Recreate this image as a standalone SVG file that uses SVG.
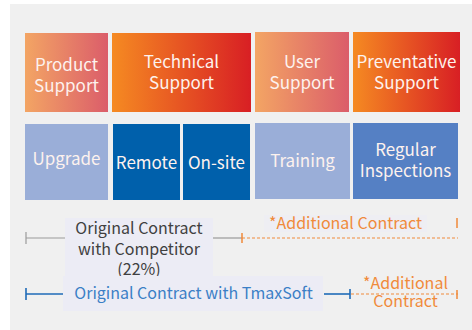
<svg xmlns="http://www.w3.org/2000/svg" width="472" height="330" viewBox="0 0 472 330">
<defs>
<linearGradient id="gSoft" x1="0" y1="0" x2="1" y2="0"><stop offset="0" stop-color="#f3a564"/><stop offset="1" stop-color="#db5d6a"/></linearGradient>
<linearGradient id="gHot" x1="0" y1="0" x2="1" y2="0"><stop offset="0" stop-color="#f58a22"/><stop offset="1" stop-color="#d81f24"/></linearGradient>
<style>
.t{font-family:"Noto Sans CJK KR","Noto Sans",sans-serif;font-size:17px;fill:#fdf2ee;text-anchor:middle}
.b{font-family:"Noto Sans CJK KR","Noto Sans",sans-serif;font-size:16px;text-anchor:middle}
.lbl{fill:#ececf5}
</style>
</defs>
<rect x="10" y="4" width="462" height="326" fill="#f0f0f0"/>
<g id="product-support"><rect x="25" y="33" width="83" height="79" fill="url(#gSoft)"/><text class="t" x="66.5" y="71">Product</text><text class="t" x="66.5" y="92">Support</text></g>
<g id="technical-support"><rect x="112" y="33" width="139" height="79" fill="url(#gHot)"/><text class="t" x="181.5" y="68">Technical</text><text class="t" x="181.5" y="89">Support</text></g>
<g id="user-support"><rect x="255" y="32" width="94" height="80" fill="url(#gSoft)"/><text class="t" x="302" y="68">User</text><text class="t" x="302" y="89">Support</text></g>
<g id="preventative-support"><rect x="353" y="32" width="107" height="80" fill="url(#gHot)"/><text class="t" x="406.5" y="68">Preventative</text><text class="t" x="406.5" y="89">Support</text></g>
<g id="upgrade"><rect x="25" y="124" width="83" height="76" fill="#9aaed8"/><text class="t" x="66.5" y="165">Upgrade</text></g>
<g id="remote"><rect x="113" y="124" width="67" height="76" fill="#0060ab"/><text class="t" x="146.5" y="169">Remote</text></g>
<g id="on-site"><rect x="183" y="124" width="67" height="76" fill="#0060ab"/><text class="t" x="216.5" y="169">On-site</text></g>
<g id="training"><rect x="255" y="123" width="95" height="76" fill="#9aaed8"/><text class="t" x="302.5" y="167">Training</text></g>
<g id="regular-inspections"><rect x="353" y="123" width="105" height="76" fill="#5580c4"/><text class="t" x="405.5" y="156">Regular</text><text class="t" x="405.5" y="177">Inspections</text></g>
<g id="connectors">
<line x1="26" y1="238" x2="65" y2="238" stroke="#9a9a9a" stroke-width="1.2"/>
<line x1="26" y1="232" x2="26" y2="244" stroke="#9a9a9a" stroke-width="1.2"/>
<line x1="213" y1="238" x2="242" y2="238" stroke="#9a9a9a" stroke-width="1.2"/>
<line x1="242" y1="238" x2="458" y2="238" stroke="#f08a3a" stroke-width="1.2" stroke-dasharray="3,2"/>
<line x1="242" y1="233" x2="242" y2="243" stroke="#f08a3a" stroke-width="1.5"/>
<line x1="457" y1="218" x2="457" y2="228" stroke="#f08a3a" stroke-width="1.5"/>
<line x1="26" y1="294" x2="63" y2="294" stroke="#1f6bb8" stroke-width="1.6"/>
<line x1="26" y1="288" x2="26" y2="300" stroke="#1f6bb8" stroke-width="1.6"/>
<line x1="324" y1="294" x2="350" y2="294" stroke="#1f6bb8" stroke-width="1.6"/>
<line x1="350" y1="289" x2="350" y2="299" stroke="#1f6bb8" stroke-width="1.6"/>
<line x1="351" y1="294" x2="458" y2="294" stroke="#f08a3a" stroke-width="1.2" stroke-dasharray="3,2"/>
<line x1="457" y1="290" x2="457" y2="299" stroke="#f08a3a" stroke-width="1.5"/>
</g>
<g id="competitor-label"><rect class="lbl" x="65" y="218" width="148" height="59"/><text class="b" x="139" y="234" fill="#404040">Original Contract</text><text class="b" x="139" y="255" fill="#404040">with Competitor</text><text class="b" x="139" y="275" fill="#404040">(22%)</text></g>
<g id="tmaxsoft-label"><rect class="lbl" x="63" y="276" width="260" height="35"/><text class="b" x="193.5" y="299" fill="#3b7fc6">Original Contract with TmaxSoft</text></g>
<g id="additional-1"><rect class="lbl" x="264" y="215" width="163" height="17" opacity="0.6"/><text class="b" x="345.5" y="229" fill="#f08a3a">*Additional Contract</text></g>
<g id="additional-2"><text class="b" x="405.5" y="289" fill="#f08a3a">*Additional</text><text class="b" x="405.5" y="307" fill="#f08a3a">Contract</text></g>
</svg>
